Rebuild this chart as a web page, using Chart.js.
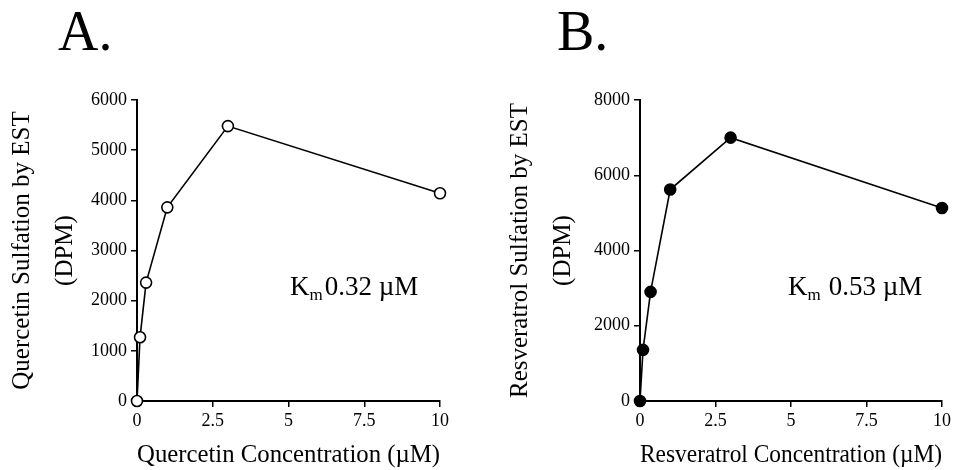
<!DOCTYPE html>
<html>
<head>
<meta charset="utf-8">
<script src="https://cdn.jsdelivr.net/npm/chart.js@4"></script>
<style>
  html, body { margin: 0; padding: 0; background: #fff; }
  .panel { position: absolute; top: 0; width: 479px; height: 470px; }
  #panelA { left: 0; }
  #panelB { left: 479px; }
</style>
</head>
<body>
<div class="panel" id="panelA"><canvas id="chartA"></canvas></div>
<div class="panel" id="panelB"><canvas id="chartB"></canvas></div>
<script>
// concentrations (uM)
const concQuercetin = [0, 0.1, 0.3, 1, 3, 10];
const concResveratrol = [0, 0.1, 0.35, 1, 3, 10];
// sulfation (DPM)
const dpmQuercetin = [0, 1270, 2360, 3860, 5480, 4140];
const dpmResveratrol = [0, 1360, 2900, 5620, 7000, 5130];
// tick labels
const xTicks = [0, 2.5, 5, 7.5, 10];
const yTicksA = [0, 1000, 2000, 3000, 4000, 5000, 6000];
const yTicksB = [0, 2000, 4000, 6000, 8000];

Chart.defaults.font.family = "'Liberation Serif', 'Times New Roman', serif";
Chart.defaults.color = '#000';

function toPoints(xs, ys) {
  return xs.map((x, i) => ({x: x, y: ys[i]}));
}

// panel letter + Km annotation
const labelPlugin = {
  id: 'labels',
  afterDraw(chart, args, opts) {
    const ctx = chart.ctx;
    const xs = chart.scales.x, ys = chart.scales.y;
    ctx.save();
    ctx.fillStyle = '#000';
    ctx.textBaseline = 'alphabetic';
    ctx.textAlign = 'left';
    ctx.font = "56px 'Liberation Serif'";
    ctx.fillText(opts.letter, opts.letterX, 50);
    // Km text
    let x = xs.getPixelForValue(opts.kmAt[0]);
    const y = ys.getPixelForValue(opts.kmAt[1]);
    ctx.font = "27px 'Liberation Serif'";
    ctx.fillText('K', x, y);
    x += ctx.measureText('K').width;
    ctx.font = "17px 'Liberation Serif'";
    ctx.fillText('m', x, y + 5);
    x += ctx.measureText('m').width + opts.gap;
    ctx.font = "27px 'Liberation Serif'";
    ctx.fillText(opts.km, x, y);
    ctx.restore();
  }
};

function makeChart(el, cfg) {
  return new Chart(el, {
    type: 'line',
    data: {
      datasets: [{
        data: toPoints(cfg.xs, cfg.ys),
        borderColor: '#000',
        borderWidth: 1.6,
        backgroundColor: cfg.fill,
        pointBackgroundColor: cfg.fill,
        pointBorderColor: '#000',
        pointBorderWidth: 1.6,
        pointRadius: 5.5,
        tension: 0,
        clip: false
      }]
    },
    options: {
      responsive: true,
      maintainAspectRatio: false,
      animation: false,
      layout: {padding: {top: 100, right: cfg.padRight, bottom: 0, left: 0}},
      plugins: {
        legend: {display: false},
        tooltip: {enabled: false},
        labels: cfg.labels
      },
      scales: {
        x: {
          type: 'linear',
          min: 0, max: 10,
          afterBuildTicks: s => { s.ticks = xTicks.map(v => ({value: v})); },
          afterFit: s => { s.height = 69; },
          grid: {drawOnChartArea: false, color: '#000', tickLength: 6, lineWidth: 1.5},
          border: {color: '#000', width: 2},
          ticks: {font: {size: 18}, padding: 3, maxRotation: 0, callback: v => String(v)},
          title: {display: true, text: cfg.xTitle, font: {size: 25}, padding: 0}
        },
        y: {
          type: 'linear',
          min: 0, max: cfg.yMax,
          afterBuildTicks: s => { s.ticks = cfg.yTicks.map(v => ({value: v})); },
          afterFit: s => { s.width = cfg.yWidth; },
          grid: {drawOnChartArea: false, color: '#000', tickLength: 6, lineWidth: 1.5},
          border: {color: '#000', width: 2},
          ticks: {font: {size: 18}, padding: 4, callback: v => String(v)},
          title: {display: true, text: cfg.yTitle, font: {size: 25, lineHeight: 1.72}, padding: {top: cfg.yTitlePad, bottom: 0}}
        }
      }
    },
    plugins: [labelPlugin]
  });
}

makeChart(document.getElementById('chartA'), {
  xs: concQuercetin, ys: dpmQuercetin, fill: '#fff',
  yMax: 6000, yTicks: yTicksA, yWidth: 137, padRight: 39, yTitlePad: 1,
  xTitle: 'Quercetin Concentration (µM)',
  yTitle: ['Quercetin Sulfation by EST', '(DPM)'],
  labels: {letter: 'A.', letterX: 58, kmAt: [5.05, 2120], km: '0.32 µM', gap: 2}
});

makeChart(document.getElementById('chartB'), {
  xs: concResveratrol, ys: dpmResveratrol, fill: '#000',
  yMax: 8000, yTicks: yTicksB, yWidth: 161, padRight: 16, yTitlePad: 20,
  xTitle: 'Resveratrol Concentration (µM)',
  yTitle: ['Resveratrol Sulfation by EST', '(DPM)'],
  labels: {letter: 'B.', letterX: 78, kmAt: [4.9, 2830], km: '0.53 µM', gap: 8}
});
</script>
</body>
</html>
